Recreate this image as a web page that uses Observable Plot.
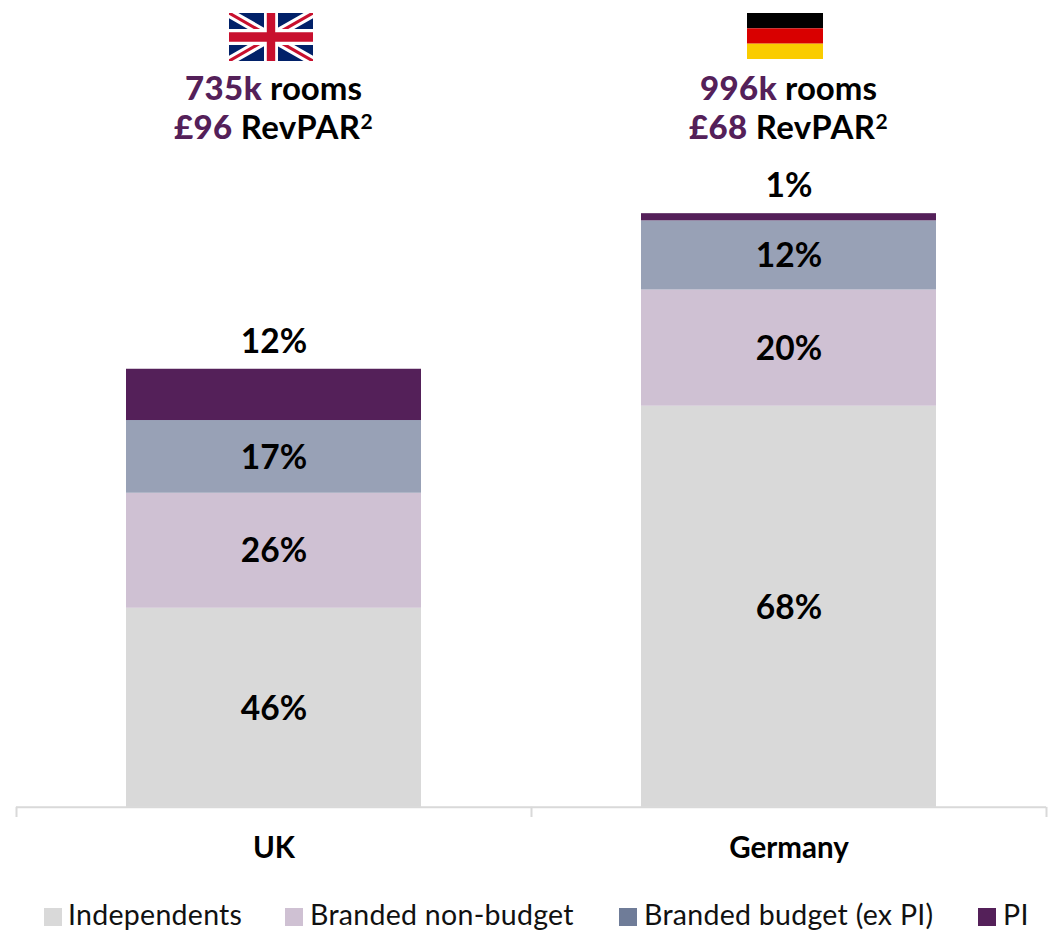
<!DOCTYPE html>
<html>
<head>
<meta charset="utf-8">
<script src="https://cdn.jsdelivr.net/npm/d3@7"></script>
<script src="https://cdn.jsdelivr.net/npm/@observablehq/plot@0.6"></script>
<style>
  html, body { margin: 0; padding: 0; background: #fff; }
  body { font-family: Lato, "Noto Sans", sans-serif; color: #000; }
  #page { position: relative; width: 1051px; height: 936px; overflow: hidden; }
  .flag { position: absolute; top: 13px; display: block; }
  .head { position: absolute; width: 515px; text-align: center; font-size: 33px; line-height: 39px; font-weight: 700; white-space: nowrap; }
  .head b { color: #542059; font-weight: 900; letter-spacing: 0.4px; }
  .head span { font-weight: 700; letter-spacing: 0.4px; }
  .head sup { font-size: 21px; line-height: 0; vertical-align: 10px; font-weight: 700; }
  #chart { position: absolute; left: 0; top: 150px; }
  #chart svg { display: block; overflow: visible; }
  .lg { position: absolute; top: 897px; font-size: 28.5px; line-height: 34px; letter-spacing: 0.28px; white-space: nowrap; color: #111; }
  .sw { position: absolute; top: 908px; width: 18px; height: 18px; }
</style>
</head>
<body>
<div id="page">
  <svg class="flag" style="left:229px" width="84" height="48" viewBox="0 0 60 30" preserveAspectRatio="none">
    <clipPath id="c"><rect width="60" height="30"/></clipPath>
    <g clip-path="url(#c)">
      <rect width="60" height="30" fill="#012169"/>
      <path d="M0,0 60,30M60,0 0,30" stroke="#fff" stroke-width="6"/>
      <path d="M0,0 30,15M60,30 30,15M60,0 30,15M0,30 30,15" stroke="#C8102E" stroke-width="2"/>
      <path d="M30,0V30M0,15H60" stroke="#fff" stroke-width="10"/>
      <path d="M30,0V30M0,15H60" stroke="#C8102E" stroke-width="6"/>
    </g>
  </svg>
  <svg class="flag" style="left:747px" width="76" height="46" viewBox="0 0 3 3" preserveAspectRatio="none">
    <rect width="3" height="1" y="0" fill="#000"/>
    <rect width="3" height="1" y="1" fill="#D90000"/>
    <rect width="3" height="1" y="2" fill="#FACC00"/>
  </svg>
  <div id="heads"></div>
  <div id="chart"></div>
  <div id="legend"></div>
</div>
<script>
const countries = ["UK", "Germany"];
const roomLabels = ["735k", "996k"];
const revparLabels = ["£96", "£68"];
const segments = ["Independents", "Branded non-budget", "Branded budget (ex PI)", "PI"];
const ukRooms = [334, 193, 122, 86];
const germanyRooms = [673, 195, 116, 12];
const ukShares = ["46%", "26%", "17%", "12%"];
const germanyShares = ["68%", "20%", "12%", "1%"];
const barColors = ["#D9D9D9", "#CFC1D3", "#98A1B6", "#542059"];
const legendColors = ["#D9D9D9", "#CFC1D3", "#6F7C98", "#542059"];
const legendSwatchX = [44, 285, 619, 978];
const legendTextX = [68, 310, 644, 1003];
const headCenters = [273.5, 788.5];

const rows = countries.flatMap((country, c) =>
  segments.map((segment, s) => ({
    country,
    segment,
    rooms: (c === 0 ? ukRooms : germanyRooms)[s],
    share: (c === 0 ? ukShares : germanyShares)[s]
  }))
);
const totals = countries.map((country) => ({
  country,
  total: d3.sum(rows.filter((r) => r.country === country), (r) => r.rooms),
  share: rows.find((r) => r.country === country && r.segment === "PI").share
}));
const tickDepth = 17; // room-scale length of the axis separators below the baseline
const boundaryStep = 515;

const labelFont = { fontSize: 33.5, fontWeight: 700, fill: "#000", fontFamily: "Lato, sans-serif" };

const plot = Plot.plot({
  width: 1051,
  height: 720,
  marginTop: 0,
  marginLeft: 16,
  marginRight: 5,
  marginBottom: 53,
  style: { background: "transparent", fontFamily: "Lato, sans-serif" },
  x: { domain: countries, paddingInner: 0.427, paddingOuter: 0.2135, align: 0.5, axis: null },
  y: { domain: [-tickDepth, 1102], axis: null },
  color: { domain: segments, range: barColors },
  marks: [
    Plot.barY(rows, Plot.stackY({ x: "country", y: "rooms", fill: "segment", order: null })),
    Plot.ruleY([0], { stroke: "#D9D9D9", strokeWidth: 2 }),
    Plot.ruleX(countries, { x: (d) => d, dx: -boundaryStep / 2, y1: 0, y2: -tickDepth, stroke: "#D9D9D9", strokeWidth: 2 }),
    Plot.ruleX(countries.slice(-1), { x: (d) => d, dx: boundaryStep / 2, y1: 0, y2: -tickDepth, stroke: "#D9D9D9", strokeWidth: 2 }),
    Plot.text(rows, Plot.stackY({
      filter: (d) => d.segment !== "PI",
      x: "country", y: "rooms", z: "country", order: null, text: "share", dy: 1, ...labelFont
    })),
    Plot.text(totals, { x: "country", y: "total", text: "share", dy: -27, ...labelFont }),
    Plot.axisX({ anchor: "bottom", tickSize: 0, tickPadding: 20, label: null, fontSize: 29.5, fontWeight: 700, fontFamily: "Lato, sans-serif", color: "#000" })
  ]
});
document.getElementById("chart").appendChild(plot);

const heads = document.getElementById("heads");
countries.forEach((c, i) => {
  const left = headCenters[i] - 257.5;
  heads.insertAdjacentHTML("beforeend",
    `<div class="head" style="left:${left}px;top:68px"><b>${roomLabels[i]}</b> rooms</div>` +
    `<div class="head" style="left:${left}px;top:107px"><b>${revparLabels[i]}</b> <span>RevPAR<sup>2</sup></span></div>`);
});
const legend = document.getElementById("legend");
segments.forEach((s, i) => {
  legend.insertAdjacentHTML("beforeend",
    `<div class="sw" style="left:${legendSwatchX[i]}px;background:${legendColors[i]}"></div>` +
    `<div class="lg" style="left:${legendTextX[i]}px">${s}</div>`);
});
</script>
</body>
</html>
